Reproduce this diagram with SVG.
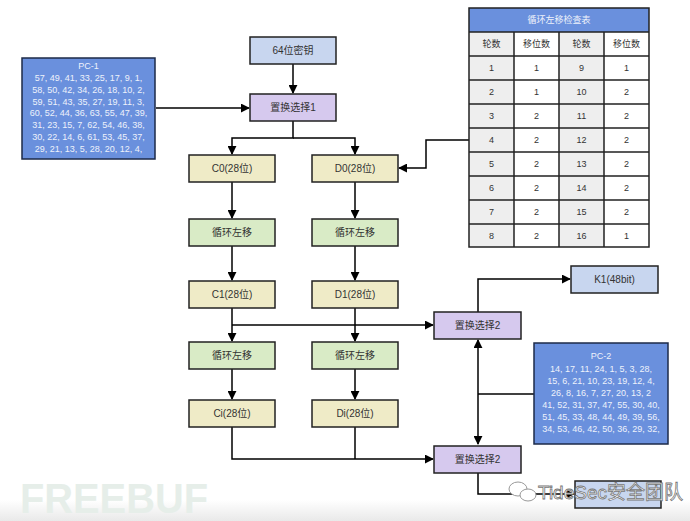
<svg xmlns="http://www.w3.org/2000/svg" width="690" height="521" viewBox="0 0 690 521">
<defs>
<marker id="ah" viewBox="0 0 10 10" refX="9" refY="5" markerWidth="9" markerHeight="9" markerUnits="userSpaceOnUse" orient="auto">
<path d="M0,0 L10,5 L0,10 z" fill="#000"/>
</marker>
<linearGradient id="fade" x1="0" y1="0" x2="0" y2="1">
<stop offset="0" stop-color="#ffffff"/>
<stop offset="1" stop-color="#e9e9e9"/>
</linearGradient>
<style>
text{font-family:"Liberation Sans","Noto Sans CJK SC",sans-serif;}
.n{stroke:#222;stroke-width:1.5;}
.key{fill:#c8d6ef;}
.perm{fill:#d6c9ee;}
.half{fill:#efebc7;}
.shift{fill:#d9ebc6;}
.pc{fill:#6a90dd;stroke:#1c2a48;stroke-width:1.5;}
.lb{font-size:10px;fill:#333;text-anchor:middle;dominant-baseline:central;}
.pt{font-size:9px;fill:#eef2fb;text-anchor:middle;dominant-baseline:central;}
.tt{font-size:9px;fill:#333;text-anchor:middle;dominant-baseline:central;}
.c{fill:none;stroke:#000;stroke-width:1.5;}
.ca{fill:none;stroke:#000;stroke-width:1.5;marker-end:url(#ah);}
.g{fill:#eeeeee;}
.w{fill:#ffffff;}
.grid{stroke:#222;stroke-width:1.5;fill:none;}
</style>
</defs>
<rect width="690" height="521" fill="#fff"/>
<rect x="0" y="500" width="690" height="21" fill="url(#fade)"/>

<g id="connectors">
<path class="ca" d="M293,64 V93"/>
<path class="ca" d="M156,108 H249"/>
<path class="ca" d="M293,121 V138 H232 V154"/>
<path class="ca" d="M293,138 H355 V154"/>
<path class="ca" d="M469,140 H426 V168 H399"/>
<path class="ca" d="M232,182 V218"/>
<path class="ca" d="M355,182 V218"/>
<path class="ca" d="M232,246 V280"/>
<path class="ca" d="M355,246 V280"/>
<path class="ca" d="M232,308 V341"/>
<path class="ca" d="M355,308 V341"/>
<path class="ca" d="M232,325 H433"/>
<path class="ca" d="M478,312 V279 H570"/>
<path class="ca" d="M232,369 V399"/>
<path class="ca" d="M355,369 V399"/>
<path class="ca" d="M232,427 V459 H433"/>
<path class="c" d="M355,427 V459"/>
<path class="c" d="M534,394 H478"/>
<path class="ca" d="M478,394 V340"/>
<path class="ca" d="M478,394 V444"/>
<path class="ca" d="M478,473 V494 H574"/>
</g>

<g id="pc1">
<rect class="pc" x="22" y="58" width="133" height="101"/>
<text class="pt" x="88.5" y="66">PC-1</text>
<text class="pt" x="88.5" y="78">57, 49, 41, 33, 25, 17, 9, 1,</text>
<text class="pt" x="88.5" y="89.8">58, 50, 42, 34, 26, 18, 10, 2,</text>
<text class="pt" x="88.5" y="101.6">59, 51, 43, 35, 27, 19, 11, 3,</text>
<text class="pt" x="88.5" y="113.4">60, 52, 44, 36, 63, 55, 47, 39,</text>
<text class="pt" x="88.5" y="125.2">31, 23, 15, 7, 62, 54, 46, 38,</text>
<text class="pt" x="88.5" y="137">30, 22, 14, 6, 61, 53, 45, 37,</text>
<text class="pt" x="88.5" y="148.8">29, 21, 13, 5, 28, 20, 12, 4,</text>
</g>

<g id="key64"><rect class="n key" x="250" y="37" width="86" height="27"/><text class="lb" x="293" y="50.5">64位密钥</text></g>
<g id="pc1sel"><rect class="n perm" x="250" y="94" width="86" height="27"/><text class="lb" x="293" y="107.5">置换选择1</text></g>
<g id="c0"><rect class="n half" x="189" y="155" width="86" height="27"/><text class="lb" x="232" y="168.5">C0(28位)</text></g>
<g id="d0"><rect class="n half" x="312" y="155" width="86" height="27"/><text class="lb" x="355" y="168.5">D0(28位)</text></g>
<g id="shiftL1"><rect class="n shift" x="189" y="219" width="86" height="27"/><text class="lb" x="232" y="232.5">循环左移</text></g>
<g id="shiftR1"><rect class="n shift" x="312" y="219" width="86" height="27"/><text class="lb" x="355" y="232.5">循环左移</text></g>
<g id="c1"><rect class="n half" x="189" y="281" width="86" height="27"/><text class="lb" x="232" y="294.5">C1(28位)</text></g>
<g id="d1"><rect class="n half" x="312" y="281" width="86" height="27"/><text class="lb" x="355" y="294.5">D1(28位)</text></g>
<g id="shiftL2"><rect class="n shift" x="189" y="342" width="86" height="27"/><text class="lb" x="232" y="355.5">循环左移</text></g>
<g id="shiftR2"><rect class="n shift" x="312" y="342" width="86" height="27"/><text class="lb" x="355" y="355.5">循环左移</text></g>
<g id="ci"><rect class="n half" x="189" y="400" width="86" height="27"/><text class="lb" x="232" y="413.5">Ci(28位)</text></g>
<g id="di"><rect class="n half" x="312" y="400" width="86" height="27"/><text class="lb" x="355" y="413.5">Di(28位)</text></g>
<g id="pc2selA"><rect class="n perm" x="434" y="312" width="87" height="27"/><text class="lb" x="477.5" y="325.5">置换选择2</text></g>
<g id="pc2selB"><rect class="n perm" x="434" y="446" width="87" height="27"/><text class="lb" x="477.5" y="459.5">置换选择2</text></g>
<g id="k1"><rect class="n key" x="571" y="266" width="87" height="27"/><text class="lb" x="614.5" y="279.5">K1(48bit)</text></g>
<g id="k2"><rect class="n key" x="575" y="481" width="86" height="27"/></g>

<g id="pc2">
<rect class="pc" x="534" y="343" width="134" height="101"/>
<text class="pt" x="601" y="356">PC-2</text>
<text class="pt" x="601" y="369">14, 17, 11, 24, 1, 5, 3, 28,</text>
<text class="pt" x="601" y="381">15, 6, 21, 10, 23, 19, 12, 4,</text>
<text class="pt" x="601" y="393">26, 8, 16, 7, 27, 20, 13, 2</text>
<text class="pt" x="601" y="405">41, 52, 31, 37, 47, 55, 30, 40,</text>
<text class="pt" x="601" y="417">51, 45, 33, 48, 44, 49, 39, 56,</text>
<text class="pt" x="601" y="429">34, 53, 46, 42, 50, 36, 29, 32,</text>
</g>

<g id="shiftTable">
<rect x="469" y="8" width="180" height="24" fill="#6a90dd"/>
<rect class="g" x="469" y="32" width="45" height="215"/>
<rect class="w" x="514" y="32" width="45" height="215"/>
<rect class="g" x="559" y="32" width="45" height="215"/>
<rect class="w" x="604" y="32" width="45" height="215"/>
<path class="grid" d="M469,8 H649 V247 H469 Z M469,32 H649 M469,56 H649 M469,80 H649 M469,104 H649 M469,128 H649 M469,152 H649 M469,176 H649 M469,200 H649 M469,224 H649 M514,32 V247 M559,32 V247 M604,32 V247"/>
<text class="tt" x="559" y="20" style="fill:#eef2fb">循环左移检查表</text>
<text class="tt" x="491.5" y="44">轮数</text><text class="tt" x="536.5" y="44">移位数</text><text class="tt" x="581.5" y="44">轮数</text><text class="tt" x="626.5" y="44">移位数</text>
<text class="tt" x="491.5" y="68">1</text><text class="tt" x="536.5" y="68">1</text><text class="tt" x="581.5" y="68">9</text><text class="tt" x="626.5" y="68">1</text>
<text class="tt" x="491.5" y="92">2</text><text class="tt" x="536.5" y="92">1</text><text class="tt" x="581.5" y="92">10</text><text class="tt" x="626.5" y="92">2</text>
<text class="tt" x="491.5" y="116">3</text><text class="tt" x="536.5" y="116">2</text><text class="tt" x="581.5" y="116">11</text><text class="tt" x="626.5" y="116">2</text>
<text class="tt" x="491.5" y="140">4</text><text class="tt" x="536.5" y="140">2</text><text class="tt" x="581.5" y="140">12</text><text class="tt" x="626.5" y="140">2</text>
<text class="tt" x="491.5" y="164">5</text><text class="tt" x="536.5" y="164">2</text><text class="tt" x="581.5" y="164">13</text><text class="tt" x="626.5" y="164">2</text>
<text class="tt" x="491.5" y="188">6</text><text class="tt" x="536.5" y="188">2</text><text class="tt" x="581.5" y="188">14</text><text class="tt" x="626.5" y="188">2</text>
<text class="tt" x="491.5" y="212">7</text><text class="tt" x="536.5" y="212">2</text><text class="tt" x="581.5" y="212">15</text><text class="tt" x="626.5" y="212">2</text>
<text class="tt" x="491.5" y="235.5">8</text><text class="tt" x="536.5" y="235.5">2</text><text class="tt" x="581.5" y="235.5">16</text><text class="tt" x="626.5" y="235.5">1</text>
</g>

<g id="watermarks">
<text x="20" y="513" font-size="42" font-weight="bold" fill="#e6eee9" textLength="188" lengthAdjust="spacingAndGlyphs" style="font-family:'Liberation Sans',sans-serif">FREEBUF</text>
<g fill="#fff" stroke="#999" stroke-width="1">
<ellipse cx="518" cy="489" rx="9" ry="7"/>
<ellipse cx="528" cy="495" rx="8" ry="6"/>
</g>
<text x="538" y="499" font-size="19" fill="#ffffff" stroke="#777" stroke-width="0.8">TideSec安全团队</text>
</g>
</svg>
